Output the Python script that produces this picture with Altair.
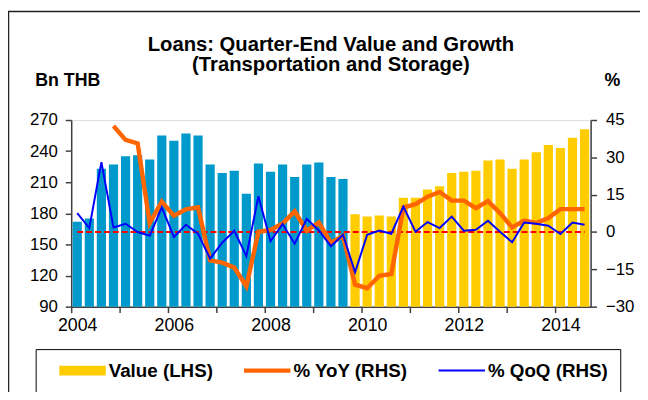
import altair as alt
import pandas as pd

# ---------------- data ----------------
quarters = [f"{y}Q{q}" for y in range(2004, 2015) for q in (1, 2, 3, 4)][:43]

value_bn = [172, 175, 223, 227, 235, 236, 232, 255, 250, 257,
            255, 227, 219, 221, 199, 228, 220, 227, 215, 227,
            229, 215, 213, 179, 177, 178, 177, 195, 195, 203,
            206, 219, 220, 221, 231, 232, 223, 232, 239, 246,
            243, 253, 261]

yoy_pct = [None, None, None, 42.6, 37.0, 35.6, 3.6, 12.2, 6.5, 9.1,
           9.9, -11.4, -12.3, -14.3, -21.8, 0.1, 0.8, 3.4, 8.3, 0.5,
           3.8, -4.4, -1.5, -21.2, -22.6, -17.6, -16.9, 9.8, 11.2, 14.2,
           16.1, 12.6, 12.6, 9.6, 12.4, 7.6, 1.8, 4.6, 3.6, 5.6,
           9.2, 9.2, 9.2]

qoq_pct = [7.6, 1.6, 28.1, 1.8, 3.3, 0.0, -1.5, 9.9, -2.0, 2.9,
           -0.7, -10.7, -4.3, 0.5, -9.7, 14.4, -3.7, 3.2, -4.7, 5.3,
           0.6, -5.7, -1.1, -16.2, -1.1, 0.6, -0.7, 10.2, 0.1, 4.0,
           1.6, 6.2, 0.5, 0.9, 4.5, 0.1, -4.1, 3.8, 3.3, 2.5,
           -0.8, 3.8, 2.9]

zero_ref = [0.0] * 43
phase = ["old"] * 23 + ["new"] * 20

series_names = ["Value (LHS)", "% YoY (RHS)", "% QoQ (RHS)"]
left_ticks = [90, 120, 150, 180, 210, 240, 270]
right_ticks = [-30, -15, 0, 15, 30, 45]
year_ticks = [f"{y}Q1" for y in range(2004, 2015)]
title_lines = ["Loans: Quarter-End Value and Growth", "(Transportation and Storage)"]

# ---------------- styling ----------------
FONT = "Liberation Sans"
BAR_BLUE = "#0099CC"
BAR_YELLOW = "#FFCC00"
ORANGE = "#FF6600"
LINE_BLUE = "#0000FF"
RED = "#FF0000"
AXIS_COL = "#404040"
W, H = 526, 189

df = pd.DataFrame({
    "quarter": quarters,
    "value": value_bn,
    "yoy": yoy_pct,
    "qoq": qoq_pct,
    "zero": zero_ref,
    "phase": phase,
})

x_enc = alt.X(
    "quarter:O",
    sort=quarters,
    scale=alt.Scale(domain=quarters, paddingInner=0.24, paddingOuter=0.12),
    axis=alt.Axis(
        values=year_ticks,
        bandPosition=0,
        tickOffset=-1.2,
        labelOffset=1.2,
        labelExpr="toNumber(slice(datum.value, 0, 4)) % 2 == 0 ? slice(datum.value, 0, 4) : ''",
        labelAngle=0,
        labelOverlap=False,
        tickSize=6,
        labelPadding=4,
        labelFont=FONT,
        labelFontSize=18,
        labelColor="black",
        domainColor=AXIS_COL,
        domainWidth=1.5,
        tickColor=AXIS_COL,
        tickWidth=1.5,
        title=None,
    ),
)

left_axis = alt.Axis(
    values=left_ticks,
    orient="left",
    grid=False,
    tickSize=6,
    labelPadding=8,
    labelFont=FONT,
    labelFontSize=17,
    labelColor="black",
    domainColor=AXIS_COL,
    domainWidth=1.5,
    tickColor=AXIS_COL,
    tickWidth=1.5,
    title="Bn THB",
    titleAngle=0,
    titleX=-37,
    titleY=-35,
    titleAlign="left",
    titleBaseline="alphabetic",
    titleFont=FONT,
    titleFontSize=18,
    titleFontWeight="bold",
    titleColor="black",
)

right_axis = alt.Axis(
    values=right_ticks,
    orient="right",
    grid=False,
    tickSize=6,
    labelPadding=9,
    labelFont=FONT,
    labelFontSize=17,
    labelColor="black",
    domainColor=AXIS_COL,
    domainWidth=1.5,
    tickColor=AXIS_COL,
    tickWidth=1.5,
    title="%",
    titleAngle=0,
    titleX=21.5,
    titleY=-35,
    titleAlign="center",
    titleBaseline="alphabetic",
    titleFont=FONT,
    titleFontSize=18,
    titleFontWeight="bold",
    titleColor="black",
)

base = alt.Chart(df)

# outer frame (decoration)
frame = alt.Chart(pd.DataFrame({"k": [0]})).mark_rect(
    fill="transparent", stroke="#222222", strokeWidth=1.5, clip=False
).encode(
    x=alt.value(-63.5), x2=alt.value(W + 100),
    y=alt.value(-110), y2=alt.value(H + 100),
)

bars = base.mark_bar(clip=True).encode(
    x=x_enc,
    y=alt.Y("value:Q", scale=alt.Scale(domain=[90, 270], nice=False, zero=False), axis=left_axis),
    fill=alt.Fill("phase:N", scale=alt.Scale(domain=["old", "new"], range=[BAR_BLUE, BAR_YELLOW]), legend=None),
)

rscale = alt.Scale(domain=[-30, 45], nice=False, zero=False)
zero_line = base.mark_line(color=RED, strokeWidth=2, strokeDash=[6, 3]).encode(
    x=x_enc, y=alt.Y("zero:Q", scale=rscale, axis=right_axis))
yoy_line = base.mark_line(color=ORANGE, strokeWidth=4.5).encode(
    x=x_enc, y=alt.Y("yoy:Q", scale=rscale, axis=right_axis))
qoq_line = base.mark_line(color=LINE_BLUE, strokeWidth=2).encode(
    x=x_enc, y=alt.Y("qoq:Q", scale=rscale, axis=right_axis))

right_layer = alt.layer(zero_line, yoy_line, qoq_line)

# legend carrier (points clipped away outside the plot; legend drawn natively)
sym_rect = "M-2.474,-0.526H2.474V0.526H-2.474Z"
sym_thick = "M-2.474,-0.23H2.474V0.23H-2.474Z"
sym_thin = "M-2.474,-0.11H2.474V0.11H-2.474Z"

legend_cfg = alt.Legend(
    orient="none",
    legendX=-36,
    legendY=232,
    direction="horizontal",
    strokeColor="black",
    fillColor="white",
    padding=12,
    columnPadding=30,
    symbolSize=361,
    symbolStrokeWidth=0,
    symbolOpacity=1,
    labelOffset=17,
    labelFont=FONT,
    labelFontSize=19,
    labelFontWeight="bold",
    labelColor="black",
    titleOrient="left",
    titlePadding=26,
    titleFontSize=10,
)

legend_layer = alt.Chart(pd.DataFrame({"series": series_names})).mark_point(
    filled=True, size=361, clip=True
).encode(
    x=alt.value(-900),
    y=alt.value(-900),
    color=alt.Color("series:N", title="\u00a0",
                    scale=alt.Scale(domain=series_names, range=[BAR_YELLOW, ORANGE, LINE_BLUE]),
                    legend=legend_cfg),
    shape=alt.Shape("series:N", title="\u00a0",
                    scale=alt.Scale(domain=series_names, range=[sym_rect, sym_thick, sym_thin]),
                    legend=legend_cfg),
)

chart = alt.layer(frame, bars, right_layer, legend_layer).resolve_scale(
    y="independent"
).properties(
    width=W,
    height=H,
    autosize=alt.AutoSizeParams(type="none"),
    padding={"left": 64, "top": 111, "right": 50, "bottom": 84},
    title=alt.TitleParams(
        text=title_lines,
        font=FONT,
        fontSize=20.5,
        fontWeight="bold",
        color="black",
        anchor="middle",
        lineHeight=21,
        offset=0,
        dy=66,
    ),
).configure_view(stroke="transparent").configure(background="white")

chart.save("out.html", embed_options={"renderer": "svg", "actions": False})
